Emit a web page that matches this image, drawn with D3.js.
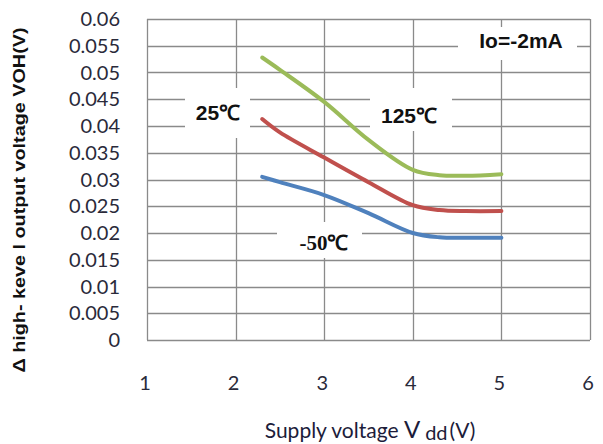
<!DOCTYPE html>
<html>
<head>
<meta charset="utf-8">
<script src="https://cdn.jsdelivr.net/npm/d3@7"></script>
<style>
  html, body { margin: 0; padding: 0; background: #fff; }
  svg { display: block; }
</style>
</head>
<body>
<svg id="chart" width="603" height="444"></svg>
<script>
// Supply voltage sweep (V)
const vdd = [2.3, 2.5, 3, 3.5, 4, 4.3, 4.6, 5];
// ΔVOH (V) for each temperature
const t125 = [0.0528, 0.0505, 0.0445, 0.0374, 0.0318, 0.0308, 0.0307, 0.0310];
const t25  = [0.0413, 0.0388, 0.0341, 0.0295, 0.0252, 0.0243, 0.0241, 0.0241];
const tm50 = [0.0305, 0.0295, 0.0271, 0.0237, 0.0200, 0.0192, 0.0191, 0.0191];

const xTicks = [1, 2, 3, 4, 5, 6];
const yTicks = [0, 0.005, 0.01, 0.015, 0.02, 0.025, 0.03, 0.035, 0.04, 0.045, 0.05, 0.055, 0.06];
const yTickLabels = ["0", "0.005", "0.01", "0.015", "0.02", "0.025", "0.03", "0.035", "0.04", "0.045", "0.05", "0.055", "0.06"];

const series = [
  { name: "125℃", values: t125, color: "#9bbb59" },
  { name: "25℃",  values: t25,  color: "#c0504d" },
  { name: "-50℃", values: tm50, color: "#4f81bd" }
];

const svg = d3.select("#chart");
const plot = { left: 147, right: 590, top: 19, bottom: 340 };

const x = d3.scaleLinear().domain([1, 6]).range([plot.left, plot.right]);
const y = d3.scaleLinear().domain([0, 0.06]).range([plot.bottom, plot.top]);

const gridColor = "#8a8a8a";

// grid
const grid = svg.append("g");
grid.selectAll("line.h").data(yTicks).join("line")
  .attr("x1", plot.left).attr("x2", plot.right)
  .attr("y1", d => Math.round(y(d)) + 0.5).attr("y2", d => Math.round(y(d)) + 0.5)
  .attr("stroke", gridColor).attr("stroke-width", 1.3);
grid.selectAll("line.v").data(xTicks).join("line")
  .attr("y1", plot.top).attr("y2", plot.bottom)
  .attr("x1", d => Math.round(x(d)) + 0.5).attr("x2", d => Math.round(x(d)) + 0.5)
  .attr("stroke", gridColor).attr("stroke-width", 1.3);

// tick labels
const tickFont = "Lato, 'Open Sans', sans-serif";
svg.append("g").selectAll("text").data(yTicks).join("text")
  .attr("x", 120).attr("y", d => y(d))
  .attr("dy", "0.36em")
  .attr("text-anchor", "end")
  .attr("font-family", tickFont).attr("font-size", 20)
  .attr("fill", "#2a2a3a")
  .text((d, i) => yTickLabels[i]);

svg.append("g").selectAll("text").data(xTicks).join("text")
  .attr("x", d => x(d) - 2).attr("y", 390)
  .attr("text-anchor", "middle")
  .attr("font-family", tickFont).attr("font-size", 20)
  .attr("fill", "#2a2a3a")
  .text(d => d);

// smoothed series lines
const line = d3.line()
  .x((d, i) => x(vdd[i]))
  .y(d => y(d))
  .curve(d3.curveCatmullRom.alpha(0.5));

svg.append("g").selectAll("path").data(series).join("path")
  .attr("d", s => line(s.values))
  .attr("fill", "none")
  .attr("stroke", s => s.color)
  .attr("stroke-width", 4)
  .attr("stroke-linecap", "round");

// annotation labels on white boxes
const notes = [
  { text: "Io=-2mA", cx: 521, by: 48, box: [458, 27, 119, 33], font: "'Liberation Sans', Arial, sans-serif" },
  { text: "25℃",  cx: 218, by: 120, box: [185, 88, 65, 50], font: "'Liberation Sans', Arial, sans-serif" },
  { text: "125℃", cx: 409, by: 123, box: [370, 88, 82, 43], font: "'Liberation Sans', Arial, sans-serif" },
  { text: "-50℃", cx: 324, by: 250, box: [277, 222, 85, 36], font: "'Liberation Serif', 'Times New Roman', serif" }
];
const ng = svg.append("g");
ng.selectAll("rect").data(notes).join("rect")
  .attr("x", d => d.box[0]).attr("y", d => d.box[1])
  .attr("width", d => d.box[2]).attr("height", d => d.box[3])
  .attr("fill", "#fff");
ng.selectAll("text").data(notes).join("text")
  .attr("x", d => d.cx).attr("y", d => d.by)
  .attr("text-anchor", "middle")
  .attr("font-family", d => d.font)
  .attr("font-weight", "bold").attr("font-size", 21)
  .attr("fill", "#111")
  .text(d => d.text);

// axis titles
const xt = svg.append("text")
  .attr("x", 370).attr("y", 438)
  .attr("text-anchor", "middle")
  .attr("font-family", tickFont).attr("font-size", 21)
  .attr("fill", "#1c1c3a");
xt.append("tspan").text("Supply voltage ");
xt.append("tspan").attr("font-size", 24).text("V");
xt.append("tspan").attr("dx", 5).attr("dy", 2).attr("font-size", 20).text("dd");
xt.append("tspan").attr("dx", 2).attr("dy", -2).text("(V)");

svg.append("text")
  .attr("transform", "translate(25,200) rotate(-90)")
  .attr("text-anchor", "middle")
  .attr("font-family", "'Liberation Sans Narrow', 'Liberation Sans', Arial, sans-serif")
  .attr("font-weight", "bold").attr("font-size", 17)
  .attr("fill", "#111")
  .attr("textLength", 345).attr("lengthAdjust", "spacingAndGlyphs")
  .text("Δ high- keve l output voltage VOH(V)");
</script>
</body>
</html>
